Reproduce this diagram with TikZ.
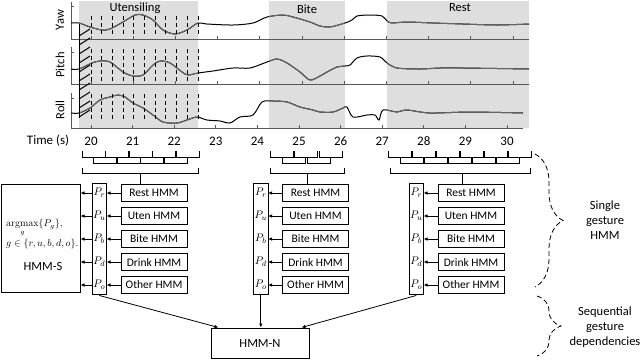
\documentclass[tikz,border=0pt]{standalone}
\usepackage[no-math]{fontspec}
\setmainfont{Carlito}
\usetikzlibrary{arrows.meta,positioning,fit,decorations.pathreplacing}
\definecolor{bgshade}{gray}{0.87}
\definecolor{trace}{gray}{0.40}
\definecolor{frame}{gray}{0.35}

\newcommand{\yawcurve}[1]{\draw[#1,line width=1pt] plot[smooth,tension=0.5] coordinates {(71,23) (79,23) (90,27) (102,30) (110,29) (123,22) (135,15) (143,15) (153,20) (163,30) (175,34) (187,30) (198,23) (207,24) (233,25) (253,23) (267,17) (283,15) (293,17) (310,22) (320,26) (330,27) (345,23) (352,20) (357,16) (370,15) (382,16) (387,21) (392,23) (407,22) (433,23) (463,24) (497,25) (529,24)};}
\newcommand{\pitchcurve}[1]{\draw[#1,line width=1pt] plot[smooth,tension=0.5] coordinates {(71,69) (79,69) (92,63) (100,61) (110,62) (123,72) (133,76) (143,75) (153,65) (160,61) (170,63) (182,72) (188,75) (198,73) (213,71) (233,68) (250,68) (267,62) (277,59) (287,63) (300,72) (310,80) (320,76) (327,72) (337,67) (345,66) (350,65) (357,58) (367,56) (380,57) (387,63) (397,68) (420,69) (440,68) (463,68) (529,69)};}
\newcommand{\rollcurve}[1]{\draw[#1,line width=1pt] plot[smooth,tension=0.5] coordinates {(71,113) (79,113) (90,108) (100,100) (110,97) (118,95) (125,97) (133,103) (143,108) (153,115) (163,122) (177,123) (187,120) (197,117) (207,120) (220,121) (230,123) (240,117) (253,115) (262,102) (273,101) (287,102) (300,107) (313,110) (320,112) (333,112) (343,108) (347,107) (353,117) (367,115) (375,115) (379,120) (383,110) (397,112) (407,110) (430,113) (470,112) (523,113)};}

\begin{document}
\begin{tikzpicture}[x=1pt, y=-1pt, node distance=4.5pt,
    hmm/.style={draw,line width=1pt,minimum width=66pt,minimum height=17.5pt,inner sep=0pt,font=\fontsize{11.5}{13}\selectfont},
    plab/.style={minimum width=14pt,minimum height=17.5pt,inner sep=0pt,font=\fontsize{11}{12}\selectfont},
    pcol/.style={draw,line width=1pt,inner xsep=0pt,inner ysep=1pt},
    bigbox/.style={draw,line width=1pt,inner sep=0pt,font=\fontsize{12.5}{15}\selectfont},
    arrow/.style={-{Latex[length=4pt,width=3.5pt]},line width=0.8pt},
    win/.style={line width=0.8pt},
    axis/.style={frame,line width=0.9pt},
    winline/.style={line width=1pt,dash pattern=on 4pt off 3pt},
    txt/.style={font=\fontsize{12.5}{15}\selectfont},
    ticklab/.style={font=\fontsize{13}{15}\selectfont},
    note/.style={align=center,font=\fontsize{12.5}{15}\selectfont},
    dbrace/.style={line width=0.8pt,dash pattern=on 5pt off 3pt,decorate,decoration={brace,amplitude=#1}}]
  \useasboundingbox (0,0) rectangle (640,360);
  % sensor traces
  \fill[bgshade] (79,1) rectangle (198,128) (269,1) rectangle (345,128) (387,1) rectangle (529,128);
  \draw[axis] (71,2) -- (71,39) (71,47) -- (71,84) (71,93) -- (71,128);
  \draw[axis] (71,39) -- (529,39) (71,84) -- (529,84) (71,128) -- (523,128);
  \foreach \yy in {6,52,69,98} \draw[axis] (71,\yy) -- (74,\yy);
  \foreach \t in {20,...,30}{
    \draw[axis] ({91+42.2*(\t-20)},39) -- ++(0,-3) ({91+42.2*(\t-20)},84) -- ++(0,-3);
    \draw[axis] ({91+41.6*(\t-20)},128) -- ++(0,-3);
    \node[ticklab] (t\t) at ({91+41.6*(\t-20)},141) {\t};
  }
  \node[ticklab] (time) at (48,141) {Time (s)};
  \yawcurve{black}
  \pitchcurve{black}
  \rollcurve{black}
  \begin{scope}
    \clip (79,1) rectangle (198,128) (269,1) rectangle (345,128) (387,1) rectangle (529,128);
    \yawcurve{trace}
    \pitchcurve{trace}
    \rollcurve{trace}
  \end{scope}
  \foreach \k in {0,...,10}{
    \pgfmathsetmacro\wx{91+10.7*\k}
    \draw[winline] (\wx,16) -- (\wx,36) (\wx,49) -- (\wx,82) (\wx,94) -- (\wx,119);
  }
  \draw[line width=1pt] (79,24) -- (79,118);
  \foreach \yy in {36,45,...,117} \draw[line width=1pt] (79,\yy) -- (90,\yy-7);
  \node[txt,rotate=90] (yaw) at (60,20) {Yaw};
  \node[txt,rotate=90] (pitch) at (60,65) {Pitch};
  \node[txt,rotate=90] (roll) at (60,110) {Roll};
  \node[txt] (uten) at (135,8) {Utensiling};
  \node[txt] (bite) at (307,9) {Bite};
  \node[txt] (rest) at (460,8) {Rest};
  % sliding windows
  \foreach \xs/\n/\st in {82/8/11.75,270/4/12.3,388/10/12}{
    \foreach \k in {0,...,\n}{
      \pgfmathsetmacro\xa{\xs+\k*\st}
      \pgfmathsetmacro\yt{151+6*mod(\k,2)}
      \draw[win] (\xa,\yt) -- (\xa,\yt+6) -- (\xa+23,\yt+6) -- (\xa+23,\yt);
    }
  }
  \draw[win] (82,168) |- (198,173) -- (198,168);
  \draw[win] (270,168) |- (344,173) -- (344,168);
  \draw[win] (390,168) |- (530,173) -- (530,168);
  \coordinate (w1) at (140,173);
  \coordinate (w2) at (307,173);
  \coordinate (w3) at (462,173);
  % gesture models
  \foreach \c/\x in {1/154,2/315.5,3/471}{
    \node[hmm] (rest\c) at (\x,193) {Rest HMM};
    \node[hmm,below=of rest\c] (uten\c) {Uten HMM};
    \node[hmm,below=of uten\c] (bite\c) {Bite HMM};
    \node[hmm,below=of bite\c] (drink\c) {Drink HMM};
    \node[hmm,below=of drink\c] (other\c) {Other HMM};
    \foreach \m/\g in {rest/r,uten/u,bite/b,drink/d,other/o}{
      \node[plab,left=14pt of \m\c] (p\g\c) {$P_\g$};
      \draw[arrow] (\m\c.west) -- (p\g\c.east);
    }
    \node[pcol,fit=(pr\c)(po\c)] (p\c) {};
    \draw[win] (w\c) -- (w\c |- rest\c.north);
  }
  \node[bigbox,minimum width=79pt,minimum height=108pt] (hmms) at (40.5,238) {};
  \node[anchor=west,align=left,inner sep=0pt,font=\fontsize{10}{12}\selectfont] (argmax) at (6,234) {$\mathop{\mathrm{argmax}}\limits_{g}\{P_g\},$\\[1pt]$g\in\{r,u,b,d,o\}.$};
  \node[txt] (slab) at (43,266) {HMM-S};
  \foreach \g in {r,u,b,d,o} \draw[arrow] (p\g1.west) -- (p\g1.west -| hmms.east);
  \node[bigbox,minimum width=98pt,minimum height=30pt] (hmmn) at (260,343) {HMM-N};
  \draw[arrow] (p1.south) -- ([xshift=8pt]hmmn.north west);
  \draw[arrow] (p2.south) -- (p2.south |- hmmn.north);
  \draw[arrow] (p3.south) -- ([xshift=-8pt]hmmn.north east);
  % levels
  \draw[dbrace=28pt] (535,154) -- (535,287);
  \draw[dbrace=24pt] (537,296) -- (537,356);
  \node[note] (single) at (605,220) {Single\\gesture\\HMM};
  \node[note] (seq) at (605,327) {Sequential\\gesture\\dependencies};
\end{tikzpicture}
\end{document}
